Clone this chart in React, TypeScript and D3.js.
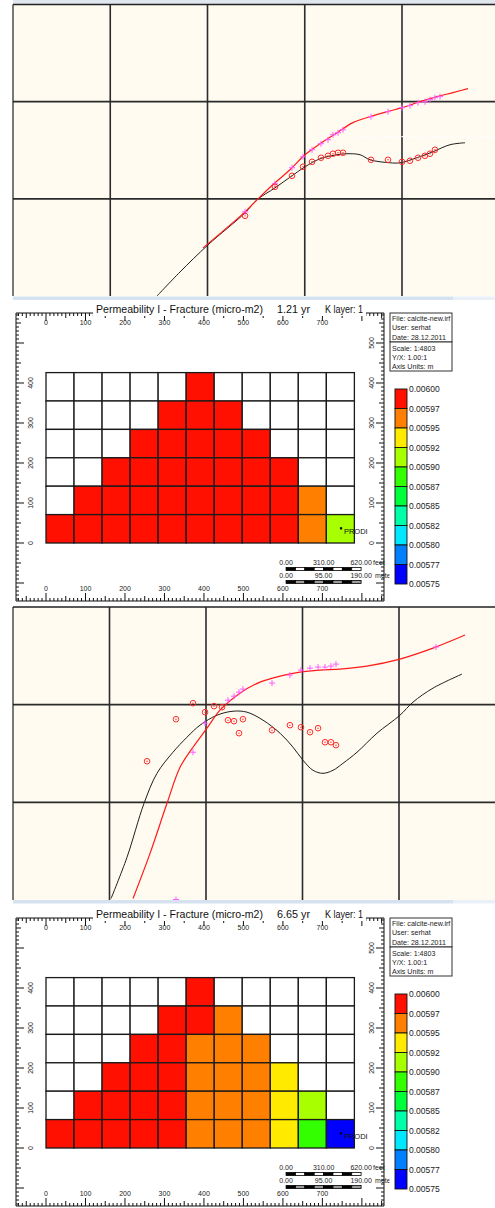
import React from 'react';
import * as d3 from 'd3';

const W = 495;
const H = 1208;
const FONT = "'Liberation Sans', Arial, Helvetica, sans-serif";

type P = [number, number];

// ---------- Panel 1 (history match, early) : x,y in grid units ----------
const p1SimBlack: P[] = [
  [1.481, 0], [1.717, 0.247], [2.005, 0.526], [2.386, 0.856], [2.509, 0.99], [2.694, 1.113],
  [2.869, 1.237], [3.003, 1.33], [3.157, 1.412], [3.332, 1.454], [3.434, 1.464], [3.568, 1.454],
  [3.671, 1.402], [3.877, 1.371], [3.979, 1.371], [4.154, 1.423], [4.319, 1.485], [4.494, 1.557],
  [4.648, 1.577],
];
const p1SimRed: P[] = [
  [1.954, 0.495], [2.386, 0.866], [2.509, 0.99], [2.694, 1.165], [2.848, 1.299], [3.003, 1.454],
  [3.157, 1.567], [3.332, 1.68], [3.496, 1.784], [3.671, 1.845], [3.846, 1.897], [4.0, 1.938],
  [4.185, 2.0], [4.36, 2.052], [4.524, 2.093], [4.679, 2.134],
];
const p1ObsCircles: P[] = [
  [2.386, 0.825], [2.694, 1.124], [2.869, 1.237], [2.982, 1.33], [3.075, 1.381], [3.167, 1.423],
  [3.239, 1.443], [3.29, 1.464], [3.342, 1.474], [3.393, 1.474], [3.681, 1.402], [3.856, 1.402],
  [4.0, 1.381], [4.082, 1.392], [4.165, 1.423], [4.236, 1.443], [4.288, 1.464], [4.339, 1.505],
];
const p1ObsCrosses: P[] = [
  [2.386, 0.866], [2.694, 1.155], [2.869, 1.32], [2.982, 1.433], [3.075, 1.505], [3.167, 1.567],
  [3.239, 1.608], [3.29, 1.66], [3.342, 1.68], [3.393, 1.711], [3.681, 1.845], [3.856, 1.897],
  [4.0, 1.938], [4.082, 1.959], [4.165, 1.99], [4.236, 2.0], [4.288, 2.021], [4.339, 2.041],
  [4.391, 2.052],
];

// ---------- Panel 3 (history match, late) ----------
const p3SimBlack: P[] = [
  [1.016, 0.015], [1.181, 0.436], [1.358, 0.99], [1.492, 1.297], [1.658, 1.513], [1.803, 1.667],
  [1.938, 1.79], [2.114, 1.892], [2.28, 1.933], [2.425, 1.923], [2.591, 1.841], [2.767, 1.708],
  [2.902, 1.564], [3.005, 1.431], [3.109, 1.328], [3.212, 1.297], [3.316, 1.328], [3.42, 1.4],
  [3.565, 1.513], [3.772, 1.708], [4.01, 1.892], [4.145, 2.026], [4.352, 2.169], [4.653, 2.313],
];
const p3SimRed: P[] = [
  [1.244, 0.015], [1.42, 0.477], [1.596, 0.99], [1.731, 1.359], [1.865, 1.564], [2.01, 1.759],
  [2.145, 1.944], [2.352, 2.118], [2.56, 2.231], [2.767, 2.292], [2.974, 2.333], [3.181, 2.354],
  [3.389, 2.364], [3.668, 2.395], [4.01, 2.467], [4.352, 2.579], [4.684, 2.713],
];
const p3ObsCircles: P[] = [
  [1.389, 1.421], [1.689, 1.851], [1.865, 2.015], [1.99, 1.923], [2.083, 1.985], [2.166, 1.974],
  [2.228, 1.841], [2.29, 1.831], [2.383, 1.851], [2.342, 1.708], [2.684, 1.738], [2.87, 1.79],
  [2.984, 1.769], [3.078, 1.718], [3.161, 1.759], [3.233, 1.615], [3.295, 1.615], [3.347, 1.585],
];
const p3ObsCrosses: P[] = [
  [1.689, 0.005], [1.865, 1.513], [1.99, 1.81], [2.228, 2.046], [2.29, 2.087], [2.342, 2.128],
  [2.383, 2.159], [2.684, 2.221], [2.87, 2.303], [2.984, 2.354], [3.078, 2.374], [3.161, 2.385],
  [3.233, 2.385], [3.295, 2.395], [3.347, 2.415], [4.383, 2.59],
];

// ---------- Grid maps (permeability, micro-m2), top row first; null = no value ----------
const R = 0.00599, O = 0.00596, Y = 0.00594, YG = 0.00591, G = 0.00589, B = 0.00576;
const n = null;
const grid121: (number | null)[][] = [
  [n, n, n, n, n, R, n, n, n, n, n],
  [n, n, n, n, R, R, R, n, n, n, n],
  [n, n, n, R, R, R, R, R, n, n, n],
  [n, n, R, R, R, R, R, R, R, n, n],
  [n, R, R, R, R, R, R, R, R, O, n],
  [R, R, R, R, R, R, R, R, R, O, YG],
];
const grid665: (number | null)[][] = [
  [n, n, n, n, n, R, n, n, n, n, n],
  [n, n, n, n, R, R, O, n, n, n, n],
  [n, n, n, R, R, O, O, O, n, n, n],
  [n, n, R, R, R, O, O, O, Y, n, n],
  [n, R, R, R, R, O, O, O, Y, YG, n],
  [R, R, R, R, R, O, O, O, Y, G, B],
];
const CELL = 71; // m
const legendBreaks = [0.00575, 0.005775, 0.0058, 0.005825, 0.00585, 0.005875, 0.0059, 0.005925, 0.00595, 0.005975, 0.006];
const legendLabels = ['0.00575', '0.00577', '0.00580', '0.00582', '0.00585', '0.00587', '0.00590', '0.00592', '0.00595', '0.00597', '0.00600'];
const legendColors = ['#0000ff', '#0080ff', '#00e8ff', '#00ffa8', '#00ff38', '#33ff00', '#a8ff00', '#ffea00', '#ff8000', '#ff1000'];
const xTickLabels = [0, 100, 200, 300, 400, 500, 600, 700];
const yTickLabelsLeft = [0, 100, 200, 300, 400];
const yTickLabelsRight = [0, 100, 200, 300, 400, 500];
const infoLines1 = ['File: calcite-new.irf', 'User:  serhat', 'Date: 28.12.2011'];
const infoLines2 = ['Scale: 1:4803', 'Y/X: 1.00:1', 'Axis Units: m'];
const feetBar = [0, 310, 620];
const meterBar = [0, 95, 190];
const well = { name: 'PRODI', x: 747, y: 37 };

function LinePanel(props: {
  id: string; top: number; bottom: number; unitX: number;
  black: P[]; red: P[]; circles: P[]; crosses: P[]; whiteLineY?: number;
}) {
  const { id, top, bottom, unitX, black, red, circles, crosses } = props;
  const left = 13;
  const xs = d3.scaleLinear().domain([0, 5]).range([left, left + 5 * unitX]);
  const ys = d3.scaleLinear().domain([0, 3]).range([bottom, top]);
  const line = d3.line<P>().x(d => xs(d[0])).y(d => ys(d[1])).curve(d3.curveCatmullRom.alpha(0.5));
  return (
    <g>
      <defs>
        <clipPath id={id}><rect x={left} y={top} width={W - left} height={bottom - top} /></clipPath>
      </defs>
      <rect x={left} y={top} width={W - left} height={bottom - top} fill="#fffbf0" />
      <g clipPath={`url(#${id})`}>
        {[1, 2, 3, 4].map(v => (
          <line key={'v' + v} x1={xs(v)} x2={xs(v)} y1={top} y2={bottom} stroke="#2b2b2b" strokeWidth={1.6} />
        ))}
        {[1, 2].map(v => (
          <line key={'h' + v} x1={left} x2={W} y1={ys(v)} y2={ys(v)} stroke="#2b2b2b" strokeWidth={1.6} />
        ))}
        {props.whiteLineY !== undefined && (
          <line x1={xs(3.5)} x2={W} y1={ys(props.whiteLineY)} y2={ys(props.whiteLineY)} stroke="#ffffff" strokeWidth={1.4} strokeDasharray="4,2" opacity={0.9} />
        )}
        <path d={line(black) || ''} fill="none" stroke="#1e1e1e" strokeWidth={1} />
        <path d={line(red) || ''} fill="none" stroke="#ff1a1a" strokeWidth={1.2} />
        {crosses.map((d, i) => (
          <g key={'c' + i} stroke="#ff5cff" strokeWidth={1}>
            <line x1={xs(d[0]) - 3} x2={xs(d[0]) + 3} y1={ys(d[1])} y2={ys(d[1])} />
            <line x1={xs(d[0])} x2={xs(d[0])} y1={ys(d[1]) - 3} y2={ys(d[1]) + 3} />
          </g>
        ))}
        {circles.map((d, i) => (
          <g key={'o' + i}>
            <circle cx={xs(d[0])} cy={ys(d[1])} r={2.8} fill="none" stroke="#ff2a2a" strokeWidth={1} />
            <circle cx={xs(d[0])} cy={ys(d[1])} r={0.7} fill="#ff2a2a" />
          </g>
        ))}
      </g>
      <line x1={left} x2={left} y1={top} y2={bottom} stroke="#222" strokeWidth={1.2} />
      <line x1={left} x2={W} y1={top} y2={top} stroke="#222" strokeWidth={1.4} />
    </g>
  );
}

function GridPanel({ off, cells, time, id }: { off: number; cells: (number | null)[][]; time: string; id: string }) {
  const fx0 = 16, fx1 = 384, fy0 = 313 + off, fy1 = 601 + off;
  const xs = d3.scaleLinear().domain([-76, 856]).range([fx0, fx1]);
  const ys = d3.scaleLinear().domain([-145, 575]).range([fy1, fy0]);
  const color = d3.scaleThreshold<number, string>().domain(legendBreaks.slice(1, -1)).range(legendColors);
  const xTicks = d3.range(-70, 860, 10);
  const yTicks = d3.range(-140, 580, 10);
  const tlen = (v: number) => (v % 100 === 0 ? 8 : v % 50 === 0 ? 5 : 3);
  const nRows = cells.length;
  const legY = d3.scaleLinear().domain([0, 10]).range([389 + off, 584 + off]);
  const barStart = 608;
  const ftToM = 190 / 620;
  return (
    <g fontFamily={FONT}>
      <defs>
        <clipPath id={id + 'info'}><rect x={390} y={313 + off} width={62} height={58} /></clipPath>
        <clipPath id={id + 'sb'}><rect x={270} y={550 + off} width={119.5} height={40} /></clipPath>
      </defs>
      {/* rulers */}
      <g stroke="#111" strokeWidth={1}>
        <line x1={fx0} x2={fx1} y1={fy0} y2={fy0} />
        <line x1={fx0} x2={fx1} y1={fy1} y2={fy1} />
        <line x1={fx0} x2={fx0} y1={fy0} y2={fy1} />
        <line x1={fx1} x2={fx1} y1={fy0} y2={fy1} />
        {xTicks.filter(v => xs(v) > fx0 + 1 && xs(v) < fx1 - 1).map(v => (
          <g key={'xt' + v}>
            <line x1={xs(v)} x2={xs(v)} y1={fy0} y2={fy0 + tlen(v)} />
            <line x1={xs(v)} x2={xs(v)} y1={fy1} y2={fy1 - tlen(v)} />
          </g>
        ))}
        {yTicks.filter(v => ys(v) > fy0 + 1 && ys(v) < fy1 - 1).map(v => (
          <g key={'yt' + v}>
            <line x1={fx0} x2={fx0 + tlen(v)} y1={ys(v)} y2={ys(v)} />
            <line x1={fx1} x2={fx1 - tlen(v)} y1={ys(v)} y2={ys(v)} />
          </g>
        ))}
      </g>
      {/* title */}
      <rect x={93} y={300 + off} width={273} height={16} fill="#fff" />
      <g fontSize={11.5} fill="#111">
        <text x={96} y={313 + off} textLength={167} lengthAdjust="spacingAndGlyphs">Permeability I - Fracture (micro-m2)</text>
        <text x={277} y={313 + off} textLength={33} lengthAdjust="spacingAndGlyphs">{time}</text>
        <text x={325} y={313 + off} textLength={38} lengthAdjust="spacingAndGlyphs">K layer: 1</text>
      </g>
      {/* ruler labels */}
      <g fontSize={7} fill="#222" textAnchor="middle">
        {xTickLabels.map(v => (
          <text key={'xl' + v} x={xs(v)} y={325 + off}>{v}</text>
        ))}
        {xTickLabels.map(v => (
          <text key={'xb' + v} x={xs(v)} y={591 + off}>{v}</text>
        ))}
        {yTickLabelsLeft.map(v => (
          <text key={'yl' + v} transform={`translate(${32.5},${ys(v)}) rotate(-90)`}>{v}</text>
        ))}
        {yTickLabelsRight.map(v => (
          <text key={'yr' + v} transform={`translate(${373.5},${ys(v)}) rotate(-90)`}>{v}</text>
        ))}
      </g>
      {/* cells */}
      {cells.map((row, r) => row.map((v, c) => {
        const rowFromBottom = nRows - 1 - r;
        const x0 = xs(c * CELL), x1 = xs((c + 1) * CELL);
        const y0 = ys((rowFromBottom + 1) * CELL), y1 = ys(rowFromBottom * CELL);
        return (
          <rect key={`c${r}-${c}`} x={x0} y={y0} width={x1 - x0} height={y1 - y0}
            fill={v === null ? '#ffffff' : color(v)} stroke="#1a1a1a" strokeWidth={1.3} />
        );
      }))}
      {/* well */}
      <rect x={xs(well.x) - 1} y={ys(well.y) - 1} width={2.2} height={2.2} fill="#000" />
      <text x={xs(well.x) + 3} y={ys(well.y) + 6} fontSize={7.5} fill="#111">{well.name}</text>
      {/* scale bars */}
      <g clipPath={`url(#${id}sb)`} fontSize={7} fill="#222">
        {feetBar.map(v => (
          <text key={'fb' + v} x={xs(barStart + v * ftToM)} y={565 + off} textAnchor="middle">{v.toFixed(2)}</text>
        ))}
        <text x={xs(barStart + 620 * ftToM) + 12} y={565 + off}>feet</text>
        {meterBar.map(v => (
          <text key={'mb' + v} x={xs(barStart + v)} y={578 + off} textAnchor="middle">{v.toFixed(2)}</text>
        ))}
        <text x={xs(barStart + 190) + 14} y={578 + off}>meters</text>
      </g>
      {d3.range(8).map(i => {
        const a = xs(barStart + (i * 190) / 8), b = xs(barStart + ((i + 1) * 190) / 8);
        return (
          <g key={'seg' + i}>
            <rect x={a} y={567.5 + off} width={b - a} height={3} fill={i % 2 === 0 ? '#000' : '#fff'} stroke="#000" strokeWidth={0.8} />
            <rect x={a} y={580.5 + off} width={b - a} height={3} fill={i % 2 === 0 ? '#000' : '#9a9a9a'} stroke="#000" strokeWidth={0.8} />
          </g>
        );
      })}
      {/* info box */}
      <rect x={390} y={313 + off} width={62} height={29} fill="#fff" stroke="#333" strokeWidth={1} />
      <rect x={390} y={342 + off} width={62} height={29} fill="#fff" stroke="#333" strokeWidth={1} />
      <g clipPath={`url(#${id}info)`} fontSize={7.1} fill="#222">
        {infoLines1.map((t, i) => (
          <text key={'i1' + i} x={392} y={320.5 + off + i * 9.5}>{t}</text>
        ))}
        {infoLines2.map((t, i) => (
          <text key={'i2' + i} x={392} y={350.5 + off + i * 9.3}>{t}</text>
        ))}
      </g>
      {/* legend */}
      {d3.range(10).map(i => {
        const colorIdx = 9 - i;
        return (
          <rect key={'lg' + i} x={395} y={legY(i)} width={12} height={legY(i + 1) - legY(i)}
            fill={legendColors[colorIdx]} stroke="#111" strokeWidth={0.9} />
        );
      })}
      <g fontSize={8.5} fill="#222">
        {d3.range(11).map(i => (
          <text key={'ll' + i} x={409} y={legY(i) + 3}>{legendLabels[10 - i]}</text>
        ))}
      </g>
    </g>
  );
}

export default function App() {
  return (
    <svg width={W} height={H} viewBox={`0 0 ${W} ${H}`} style={{ display: 'block', position: 'absolute', left: 0, top: 0 }}>
      <rect x={0} y={0} width={W} height={H} fill="#ffffff" />
      {/* window bands */}
      <rect x={13} y={0} width={W - 13} height={4} fill="#dfe6ee" />
      <LinePanel id="lp1" top={4.5} bottom={296} unitX={97.25} black={p1SimBlack} red={p1SimRed}
        circles={p1ObsCircles} crosses={p1ObsCrosses} whiteLineY={1.64} />
      <rect x={13} y={296.5} width={440} height={3.5} fill="#d6e2f0" />
      <rect x={453} y={296.5} width={W - 453} height={3.5} fill="#eaf0f7" />
      <GridPanel id="g1" off={0} cells={grid121} time="1.21 yr" />
      <LinePanel id="lp3" top={607} bottom={900} unitX={96.5} black={p3SimBlack} red={p3SimRed}
        circles={p3ObsCircles} crosses={p3ObsCrosses} />
      <rect x={13} y={900} width={440} height={3.5} fill="#d6e2f0" />
      <rect x={453} y={900} width={W - 453} height={3.5} fill="#eaf0f7" />
      <GridPanel id="g2" off={605} cells={grid665} time="6.65 yr" />
    </svg>
  );
}
